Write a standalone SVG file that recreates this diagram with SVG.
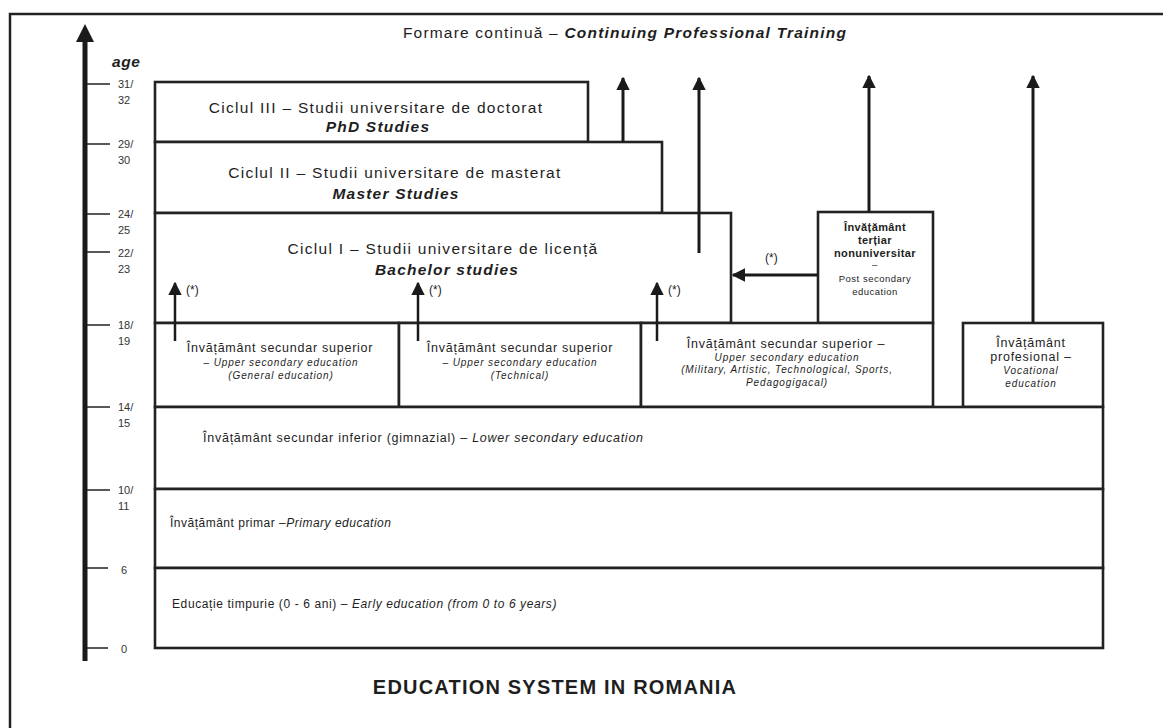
<svg xmlns="http://www.w3.org/2000/svg" width="1163" height="728" viewBox="0 0 1163 728">
<defs>
<marker id="ah" viewBox="0 0 10 10" refX="9" refY="5" markerWidth="4.6" markerHeight="4.6" markerUnits="strokeWidth" orient="auto">
<path d="M0,0 L10,5 L0,10 z" fill="#1a1a1a"/>
</marker>
<marker id="ahs" viewBox="0 0 10 10" refX="9" refY="5" markerWidth="5.4" markerHeight="5.4" markerUnits="strokeWidth" orient="auto">
<path d="M0,0 L10,5 L0,10 z" fill="#1a1a1a"/>
</marker>
<style>
text{font-family:"Liberation Sans",Arial,sans-serif;fill:#1e1e1e}
.box{fill:#fff;stroke:#222;stroke-width:2.6}
.ar{stroke:#1a1a1a;stroke-width:3;fill:none;marker-end:url(#ah)}
.ars{stroke:#1a1a1a;stroke-width:2.5;fill:none;marker-end:url(#ahs)}
.tick{stroke:#222;stroke-width:1.5}
.num{font-size:11px;fill:#333}
.big{font-size:15.5px;letter-spacing:1.3px;text-anchor:middle}
.bigbi{font-size:15.5px;letter-spacing:1.2px;font-weight:bold;font-style:italic;text-anchor:middle}
.sec{font-size:12.5px;letter-spacing:0.75px;text-anchor:middle}
.seci{font-size:10px;letter-spacing:0.9px;font-style:italic;text-anchor:middle}
.ps{font-size:11px;letter-spacing:0.4px;text-anchor:middle;font-weight:bold}
.psi{font-size:9.5px;letter-spacing:0.5px;text-anchor:middle}
.star{font-size:12px}
</style>
</defs>
<rect width="1163" height="728" fill="#fff"/>
<path d="M10,728 V14 H1163" fill="none" stroke="#222" stroke-width="2.5"/>

<g id="axis">
<line x1="85" y1="661" x2="85" y2="38" stroke="#1a1a1a" stroke-width="5"/>
<path d="M76,42 L85,24 L94,42 z" fill="#1a1a1a"/>
<text x="112" y="67" font-size="15.5" letter-spacing="0.6" font-weight="bold" font-style="italic">age</text>
<line class="tick" x1="87" y1="84" x2="110" y2="84"/>
<text class="num" x="118" y="88">31/</text><text class="num" x="118" y="104">32</text>
<line class="tick" x1="87" y1="144" x2="110" y2="144"/>
<text class="num" x="118" y="148">29/</text><text class="num" x="118" y="164">30</text>
<line class="tick" x1="87" y1="214" x2="110" y2="214"/>
<text class="num" x="118" y="218">24/</text><text class="num" x="118" y="234">25</text>
<line class="tick" x1="87" y1="252" x2="110" y2="252"/>
<text class="num" x="118" y="257">22/</text><text class="num" x="118" y="273">23</text>
<line class="tick" x1="87" y1="325" x2="110" y2="325"/>
<text class="num" x="118" y="329">18/</text><text class="num" x="118" y="345">19</text>
<line class="tick" x1="87" y1="407" x2="110" y2="407"/>
<text class="num" x="118" y="411">14/</text><text class="num" x="118" y="427">15</text>
<line class="tick" x1="87" y1="490" x2="110" y2="490"/>
<text class="num" x="118" y="494">10/</text><text class="num" x="118" y="510">11</text>
<line class="tick" x1="87" y1="568" x2="108" y2="568"/>
<text class="num" x="121" y="574">6</text>
<line class="tick" x1="87" y1="648" x2="108" y2="648"/>
<text class="num" x="121" y="653">0</text>
</g>

<g id="title-top">
<text x="625" y="38" font-size="15.5" letter-spacing="1.2" text-anchor="middle">Formare continuă – <tspan font-weight="bold" font-style="italic">Continuing Professional Training</tspan></text>
</g>

<g id="phd">
<rect class="box" x="155" y="82" width="433" height="60"/>
<text class="big" x="376" y="113">Ciclul III – Studii universitare de doctorat</text>
<text class="bigbi" x="378" y="132">PhD Studies</text>
</g>
<g id="master">
<rect class="box" x="155" y="142" width="507" height="71"/>
<text class="big" x="395" y="178">Ciclul II – Studii universitare de masterat</text>
<text class="bigbi" x="396" y="199">Master Studies</text>
</g>
<g id="bachelor">
<rect class="box" x="155" y="213" width="576" height="110"/>
<text class="big" x="443" y="254">Ciclul I – Studii universitare de licență</text>
<text class="bigbi" x="447" y="275">Bachelor studies</text>
</g>
<g id="postsec">
<rect class="box" x="818" y="212" width="115" height="111"/>
<text class="ps" x="875" y="231">Învățământ</text>
<text class="ps" x="875" y="244">terțiar</text>
<text class="ps" x="875" y="257">nonuniversitar</text>
<text class="psi" x="875" y="268">–</text>
<text class="psi" x="875" y="282">Post secondary</text>
<text class="psi" x="875" y="295">education</text>
</g>

<g id="upper-general">
<rect class="box" x="155" y="323" width="244" height="84"/>
<text class="sec" x="280" y="352">Învățământ secundar superior</text>
<text class="seci" x="281" y="366">– Upper secondary education</text>
<text class="seci" x="281" y="379">(General education)</text>
</g>
<g id="upper-technical">
<rect class="box" x="399" y="323" width="242" height="84"/>
<text class="sec" x="520" y="352">Învățământ secundar superior</text>
<text class="seci" x="520" y="366">– Upper secondary education</text>
<text class="seci" x="520" y="379">(Technical)</text>
</g>
<g id="upper-other">
<rect class="box" x="641" y="323" width="292" height="84"/>
<text class="sec" x="786" y="348">Învățământ secundar superior –</text>
<text class="seci" x="787" y="361">Upper secondary education</text>
<text class="seci" x="787" y="373">(Military, Artistic, Technological, Sports,</text>
<text class="seci" x="787" y="386">Pedagogigacal)</text>
</g>
<g id="vocational">
<rect class="box" x="963" y="323" width="140" height="84"/>
<text class="sec" x="1031" y="347">Învățământ</text>
<text class="sec" x="1031" y="361">profesional –</text>
<text class="seci" x="1031" y="374">Vocational</text>
<text class="seci" x="1031" y="387">education</text>
</g>
<g id="lower-secondary">
<rect class="box" x="155" y="407" width="948" height="82"/>
<text x="203" y="442" font-size="12.5" letter-spacing="0.75">Învățământ secundar inferior (gimnazial) – <tspan font-style="italic">Lower secondary education</tspan></text>
</g>
<g id="primary">
<rect class="box" x="155" y="489" width="948" height="79"/>
<text x="170" y="527" font-size="12" letter-spacing="0.5">Învățământ primar –<tspan font-style="italic">Primary education</tspan></text>
</g>
<g id="early">
<rect class="box" x="155" y="568" width="948" height="80"/>
<text x="172" y="608" font-size="12" letter-spacing="0.6">Educație timpurie (0 - 6 ani) – <tspan font-style="italic">Early education (from 0 to 6 years)</tspan></text>
</g>

<g id="connectors">
<line class="ar" x1="623" y1="142" x2="623" y2="78"/>
<line class="ar" x1="699" y1="253" x2="699" y2="78"/>
<line class="ar" x1="869" y1="212" x2="869" y2="76"/>
<line class="ar" x1="1033" y1="323" x2="1033" y2="76"/>
<line class="ar" x1="818" y1="275" x2="733" y2="275"/>
<text class="star" x="765" y="262">(*)</text>
<line class="ars" x1="175" y1="341" x2="175" y2="283"/>
<text class="star" x="186" y="294">(*)</text>
<line class="ars" x1="418" y1="341" x2="418" y2="283"/>
<text class="star" x="429" y="294">(*)</text>
<line class="ars" x1="657" y1="341" x2="657" y2="283"/>
<text class="star" x="668" y="294">(*)</text>
</g>

<g id="caption">
<text x="555" y="694" font-size="20" letter-spacing="1.2" font-weight="bold" text-anchor="middle">EDUCATION SYSTEM IN ROMANIA</text>
</g>
</svg>
